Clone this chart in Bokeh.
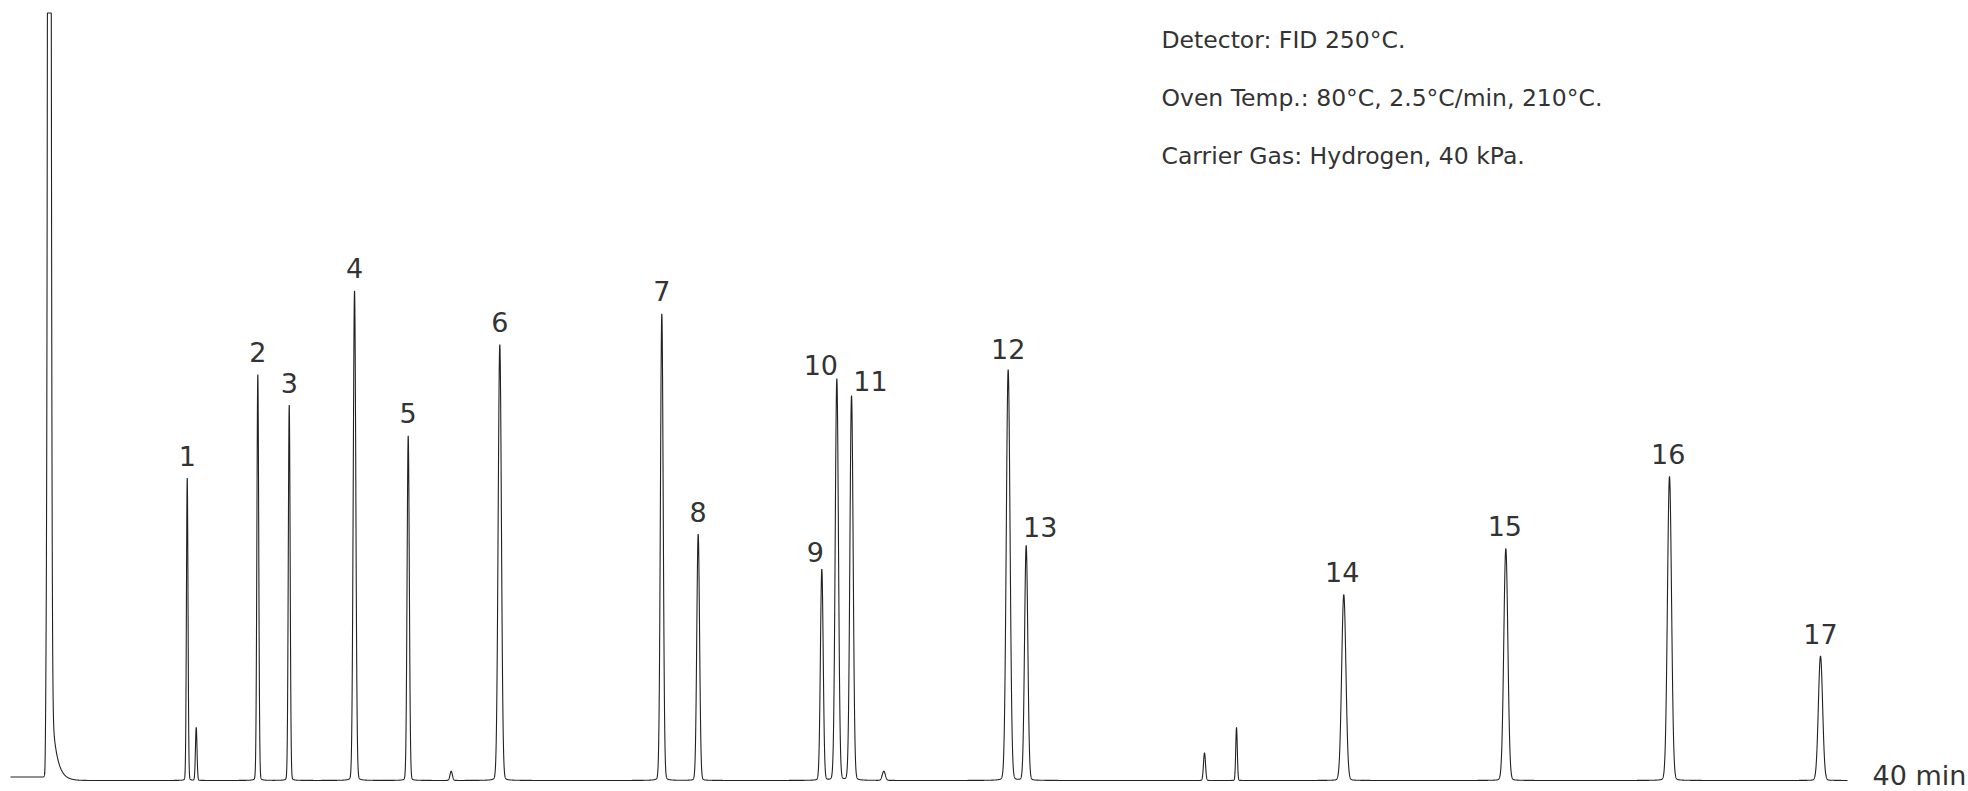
import numpy as np
from bokeh.plotting import figure
from bokeh.models import Range1d, Label, ColumnDataSource
from bokeh.core.properties import value
from bokeh.embed import file_html
from bokeh.resources import INLINE

# ---- data ----
# retention time (min), peak height (relative, solvent = 100), peak sigma (min)
solvent_time = 0.845
solvent_height = 100.0
solvent_sigma = 0.028
solvent_tail = 15.0
solvent_tau = 0.11
pre_baseline = 0.45

peak_names = ["s", "", "1", "", "2", "3", "4", "5", "", "6", "7", "8", "9", "10", "11", "",
              "12", "13", "", "", "14", "15", "16", "17"]
peak_times = [0.775, 0.775, 3.848, 4.044, 5.385, 6.069, 7.491, 8.660, 9.596, 10.654, 14.182, 14.974,
              17.666, 17.993, 18.313, 19.016, 21.724, 22.116, 25.999, 26.696, 29.032, 32.560, 36.124, 39.412]
peak_heights = [6.0, 0.0, 39.4, 6.9, 52.9, 48.9, 63.8, 44.9, 1.2, 56.8, 60.8, 32.1,
                27.5, 52.3, 50.1, 1.2, 53.5, 30.6, 3.6, 6.9, 24.2, 30.2, 39.6, 16.2]
peak_sigmas = [0.012, 0.012, 0.017, 0.017, 0.020, 0.020, 0.028, 0.024, 0.026, 0.035, 0.030, 0.030,
               0.030, 0.035, 0.035, 0.033, 0.041, 0.035, 0.022, 0.017, 0.046, 0.044, 0.044, 0.046]

label_texts = ["1", "2", "3", "4", "5", "6", "7", "8", "9", "10", "11", "12", "13", "14", "15", "16", "17"]
label_times = [3.848, 5.385, 6.069, 7.491, 8.660, 10.654, 14.182, 14.974, 17.666, 17.993, 18.313,
               21.724, 22.116, 29.032, 32.560, 36.124, 39.412]
label_heights = [39.4, 52.9, 48.9, 63.8, 44.9, 56.8, 60.8, 32.1, 27.5, 52.3, 50.1,
                 53.5, 30.6, 24.2, 30.2, 39.6, 16.2]

notes = ["Detector: FID 250\u00b0C.",
         "Oven Temp.: 80\u00b0C, 2.5\u00b0C/min, 210\u00b0C.",
         "Carrier Gas: Hydrogen, 40 kPa."]
axis_end_label = "40 min"
t_start, t_end = 0.0, 40.0

# ---- trace from the peak table ----
t = np.arange(t_start, t_end + 0.0005, 0.001)
signal = np.zeros_like(t)
for tc, h, s in zip(peak_times, peak_heights, peak_sigmas):
    d = t - tc
    signal += h * (0.985 * np.exp(-d * d / (2 * s * s)) + 0.015 / (1 + (d / (2 * s)) ** 2))
ds = t - solvent_time
solv = 3.0 * solvent_height * np.exp(-ds * ds / (2 * solvent_sigma ** 2))
solv += np.where(ds > 0, solvent_tail * np.exp(-np.clip(ds, 0, None) / solvent_tau), 0.0)
signal += solv
signal = np.minimum(signal, solvent_height)
signal += np.where(t < solvent_time - 0.1, pre_baseline, 0.0)

# ---- figure (page has no margin: canvas = window) ----
W, H = 1968, 791
ppm = 1837 / 40.0      # pixels per minute
ppu = 767.5 / 100.0    # pixels per unit
x0 = -10 / ppm
y0 = -11 / ppu
p = figure(width=W, height=H, output_backend="svg", toolbar_location=None,
           x_range=Range1d(x0, x0 + W / ppm), y_range=Range1d(y0, y0 + H / ppu),
           x_axis_location=None, y_axis_location=None, min_border=0, tools="")
p.grid.visible = False
p.outline_line_color = None
p.background_fill_color = "white"
p.border_fill_color = "white"

p.line(t, signal, line_color="#222222", line_width=1.1)

dx = {"9": -6.5, "10": -16, "11": 19, "13": 14, "14": -1.5, "15": -1, "16": -1.3}
dy = {"9": -7, "10": -4, "11": -4, "12": -10, "13": -8}
src = ColumnDataSource(dict(x=label_times, y=label_heights, text=label_texts,
                            xo=[dx.get(s, 0) for s in label_texts],
                            yo=[dy.get(s, -12) - 10.5 for s in label_texts]))
p.text(x="x", y="y", text="text", source=src, x_offset="xo", y_offset="yo",
       text_align="center", text_baseline="alphabetic",
       text_font=value("DejaVu Sans"), text_font_size="27px", text_color="#333333")

for i, s in enumerate(notes):
    p.add_layout(Label(x=1161, y=751.7 - 58.2 * i, x_units="screen", y_units="screen", text=s,
                       text_font="DejaVu Sans", text_font_size="23.5px", text_color="#333333",
                       text_baseline="alphabetic", text_align="left"))

p.add_layout(Label(x=1872, y=16, x_units="screen", y_units="screen", text=axis_end_label,
                   text_font="DejaVu Sans", text_font_size="27px", text_color="#333333",
                   text_baseline="alphabetic", text_align="left"))

open("out.html", "w").write(file_html(p, INLINE))
